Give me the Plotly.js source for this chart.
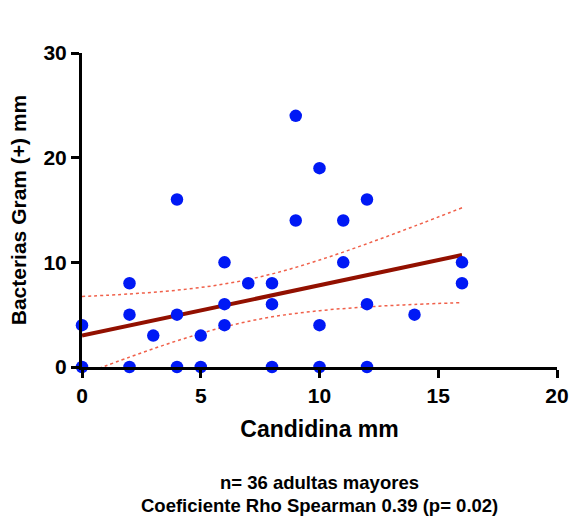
<!DOCTYPE html>
<html>
<head>
<meta charset="utf-8">
<script src="https://cdn.plot.ly/plotly-3.0.1.min.js"></script>
<style>html,body{margin:0;padding:0;background:#fff;}#chart{width:572px;height:516px;}</style>
</head>
<body>
<div id="chart"></div>
<script>
// Scatter data (Candidina mm vs Bacterias Gram (+) mm)
const candidina = [0, 0, 2, 2, 2, 3, 4, 4, 4, 5, 5, 6, 6, 6, 7, 8, 8, 8, 9, 9, 10, 10, 10, 11, 11, 12, 12, 12, 14, 16, 16];
const bacterias = [4, 0, 8, 5, 0, 3, 16, 5, 0, 3, 0, 10, 6, 4, 8, 8, 6, 0, 24, 14, 19, 4, 0, 14, 10, 16, 6, 0, 5, 10, 8];

// Regression line (estimated endpoints)
const fitX = [0, 16];
const fitY = [3.0, 10.7];

// 95% confidence bands
const bandX = [0, 2, 4, 6, 8, 10, 12, 14, 16];
const bandUpper = [6.74, 6.98, 7.34, 7.93, 8.89, 10.22, 11.78, 13.46, 15.21];
const bandLower = [-0.74, 0.94, 2.5, 3.83, 4.79, 5.38, 5.74, 5.98, 6.15];

const xTicks = [0, 5, 10, 15, 20];
const yTicks = [0, 10, 20, 30];

const noteLines = ["n= 36 adultas mayores", "Coeficiente Rho Spearman 0.39 (p= 0.02)"];

const FONT = "Liberation Sans, Arial, sans-serif";
const bandStyle = {color: '#f0604a', width: 1.5, dash: 'dot', shape: 'spline'};

const traces = [
  {x: bandX, y: bandUpper, type: 'scatter', mode: 'lines', line: bandStyle, hoverinfo: 'skip'},
  {x: bandX, y: bandLower, type: 'scatter', mode: 'lines', line: bandStyle, hoverinfo: 'skip'},
  {x: fitX, y: fitY, type: 'scatter', mode: 'lines', line: {color: '#921000', width: 4}},
  {x: candidina, y: bacterias, type: 'scatter', mode: 'markers', cliponaxis: false,
   marker: {color: '#0019f5', size: 12.5, line: {width: 0}}}
];

const layout = {
  width: 572, height: 516,
  margin: {l: 82, r: 15, t: 53, b: 149},
  paper_bgcolor: '#fff', plot_bgcolor: '#fff',
  showlegend: false,
  font: {family: FONT, color: '#000'},
  xaxis: {
    range: [0, 20], tickvals: xTicks, ticktext: xTicks.map(t => '<b>' + t + '</b>'),
    showgrid: false, zeroline: false, showline: true, linecolor: '#000', linewidth: 3,
    ticks: 'outside', ticklen: 8, tickwidth: 3, tickcolor: '#000',
    tickfont: {family: FONT, size: 21, color: '#000'},
    title: {text: '<b>Candidina mm</b>', font: {family: FONT, size: 23, color: '#000'}, standoff: 15}
  },
  yaxis: {
    range: [0, 30], tickvals: yTicks, ticktext: yTicks.map(t => '<b>' + t + '</b>'),
    showgrid: false, zeroline: false, showline: true, linecolor: '#000', linewidth: 3,
    ticks: 'outside', ticklen: 8, tickwidth: 3, tickcolor: '#000',
    tickfont: {family: FONT, size: 21, color: '#000'},
    title: {text: '<b>Bacterias Gram (+) mm</b>', font: {family: FONT, size: 21, color: '#000'}, standoff: 12}
  },
  annotations: [
    {text: '<b>' + noteLines[0] + '</b>', xref: 'paper', yref: 'paper', x: 0.5, y: -0.369, xanchor: 'center', yanchor: 'middle', showarrow: false, font: {family: FONT, size: 18.5, color: '#000'}},
    {text: '<b>' + noteLines[1] + '</b>', xref: 'paper', yref: 'paper', x: 0.5, y: -0.44, xanchor: 'center', yanchor: 'middle', showarrow: false, font: {family: FONT, size: 18.5, color: '#000'}}
  ]
};

Plotly.newPlot('chart', traces, layout, {displayModeBar: false, staticPlot: true});
</script>
</body>
</html>
